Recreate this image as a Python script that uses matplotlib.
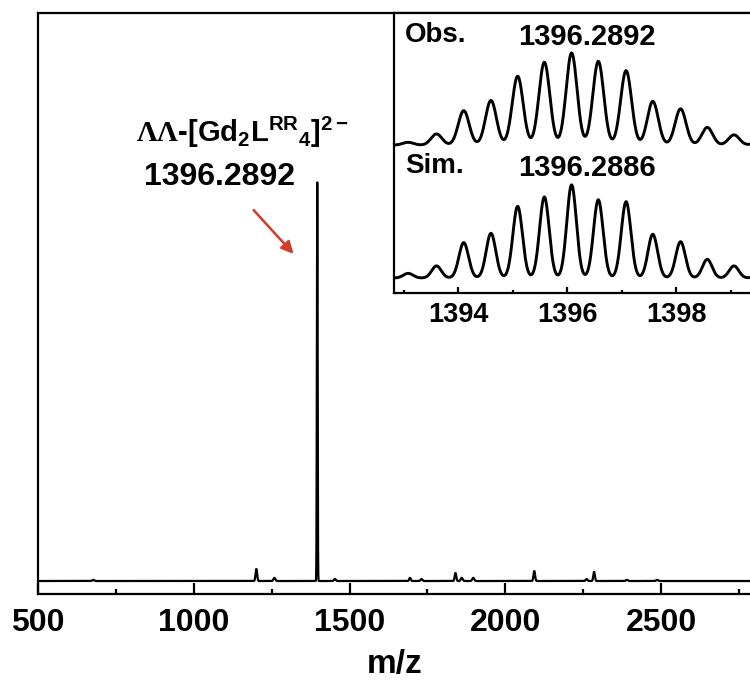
import matplotlib
matplotlib.use("Agg")
import matplotlib.pyplot as plt
import numpy as np

plt.rcParams['font.family'] = ['Liberation Sans', 'DejaVu Sans']
plt.rcParams['font.weight'] = 'bold'
plt.rcParams['mathtext.fontset'] = 'custom'
plt.rcParams['mathtext.rm'] = 'Liberation Serif'
plt.rcParams['mathtext.bf'] = 'Liberation Sans:bold'
plt.rcParams['mathtext.it'] = 'Liberation Sans:italic'

# main spectrum: peak list (m/z, relative intensity %)
peak_mz = [677, 1200.8, 1258.7, 1396.29, 1453, 1694, 1731, 1840, 1860, 1897,
           2093, 2261, 2285, 2390, 2487]
peak_int = [0.3, 3.0, 0.8, 100, 0.5, 0.8, 0.5, 2.0, 0.8, 0.8,
            2.5, 0.5, 2.3, 0.3, 0.3]
peak_width = [3, 2.5, 3, 1.2, 3, 2.5, 3, 2.5, 3, 3,
              2.5, 3, 2.5, 3, 3]

# isotope pattern (inset), relative intensity %
iso_mz = [1392.58, 1393.08, 1393.60, 1394.10, 1394.60, 1395.09, 1395.58, 1396.08,
          1396.57, 1397.08, 1397.57, 1398.08, 1398.57, 1399.06, 1399.55]
obs_int = [3, 3, 12, 37, 48, 74, 89, 99, 90, 80, 47, 39, 19, 11, 6]
sim_int = [3, 5, 13, 38, 48, 77, 87, 100, 84, 82, 47, 39, 20, 13, 6]

main_label = '1396.2892'
obs_label = '1396.2892'
sim_label = '1396.2886'


def profile(x, centers, heights, widths):
    y = np.zeros_like(x)
    for c, h, w in zip(centers, heights, widths):
        y += h * np.exp(-(x - c) ** 2 / (2 * w ** 2))
    return y


fig = plt.figure(figsize=(7.5, 6.86), dpi=100)
ax = fig.add_axes([0.0507, 0.1341, 0.952, 0.8469])

x = np.arange(500, 2800, 0.25)
ax.plot(x, profile(x, peak_mz, peak_int, peak_width), color='black', lw=1.6)
ax.set_xlim(500, 2792)
ax.set_ylim(-3.26, 142.4)
ax.set_yticks([])
ax.set_xticks([500, 1000, 1500, 2000, 2500])
ax.set_xticks([750, 1250, 1750, 2250, 2750], minor=True)
ax.tick_params(axis='x', which='both', direction='in', width=1.6, pad=10,
               labelsize=23, top=False)
ax.tick_params(axis='x', which='major', length=8)
ax.tick_params(axis='x', which='minor', length=3.6)
for s in ax.spines.values():
    s.set_linewidth(1.6)
ax.set_xlabel('m/z', fontsize=24, fontweight='bold', labelpad=8)

ax.text(815, 110,
        r'$\mathrm{\Lambda\Lambda}$-[Gd$_\mathbf{2}$L$^\mathbf{RR}{}_\mathbf{4}$]$^\mathbf{2-}$',
        fontsize=21, fontweight='bold', ha='left', va='baseline')
ax.text(1081, 101.3, main_label, fontsize=23, fontweight='bold',
        ha='center', va='center')
ax.annotate('', xy=(peak_mz[3] - 70, 81.5), xytext=(peak_mz[3] - 210, 93.5),
            arrowprops=dict(arrowstyle='-|>', color='#d23c28', lw=1.8,
                            mutation_scale=18))

# inset with isotope pattern
ins = fig.add_axes([0.5253, 0.5729, 0.4773, 0.4082])
xi = np.arange(1392.0, 1400.0, 0.005)
obs_offset = 142.7
ins.plot(xi, profile(xi, iso_mz, obs_int, [0.1] * len(iso_mz)) + obs_offset,
         color='black', lw=2.1)
ins.plot(xi, profile(xi, iso_mz, sim_int, [0.088] * len(iso_mz)),
         color='black', lw=2.1)
ins.set_xlim(1392.82, 1399.39)
ins.set_ylim(-16.1, 284.6)
ins.set_yticks([])
ins.set_xticks([1394, 1396, 1398])
ins.set_xticks([1393, 1395, 1397, 1399], minor=True)
ins.tick_params(axis='x', which='both', direction='in', width=1.6, pad=6.5,
                labelsize=19.5)
ins.tick_params(axis='x', which='major', length=4)
ins.tick_params(axis='x', which='minor', length=2.2)
for s in ins.spines.values():
    s.set_linewidth(1.6)

ins.text(1393.02, 261, 'Obs.', fontsize=20, fontweight='bold', ha='left', va='center')
ins.text(1396.36, 259, obs_label, fontsize=21, fontweight='bold', ha='center', va='center')
ins.text(1393.02, 120, 'Sim.', fontsize=20, fontweight='bold', ha='left', va='center')
ins.text(1396.36, 118, sim_label, fontsize=21, fontweight='bold', ha='center', va='center')

fig.savefig('out.png', dpi=100)
